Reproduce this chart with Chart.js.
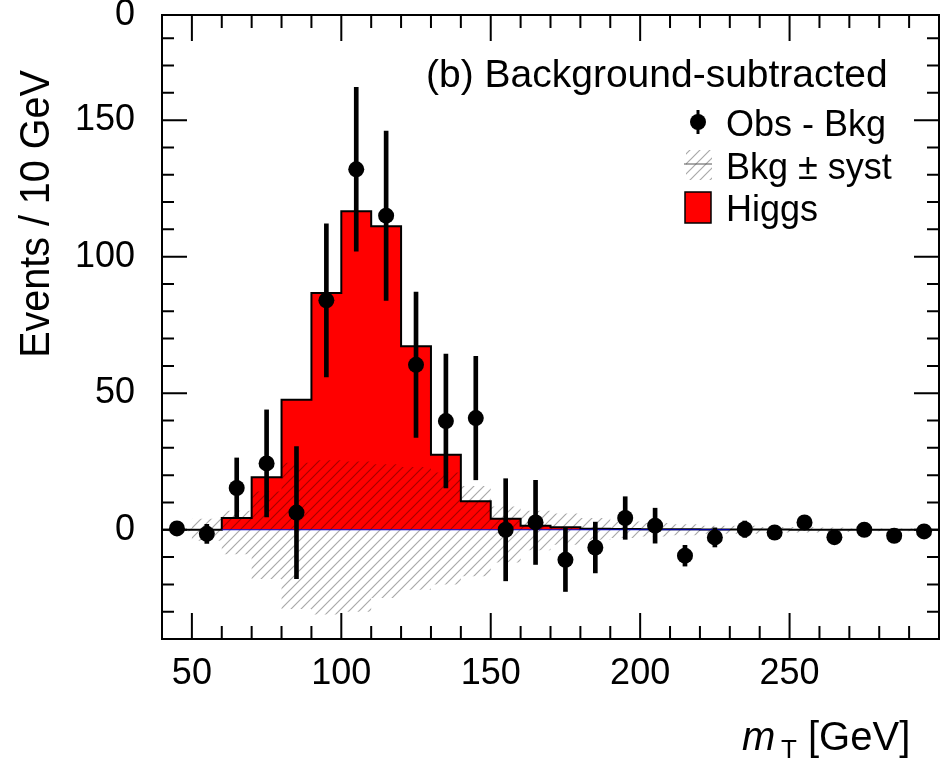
<!DOCTYPE html>
<html>
<head>
<meta charset="utf-8">
<title>mT background-subtracted</title>
<script src="https://cdn.jsdelivr.net/npm/chart.js@4.4.1/dist/chart.umd.min.js"></script>
<style>
  html,body{margin:0;padding:0;background:#fff;}
  #wrap{position:relative;width:947px;height:759px;overflow:hidden;}
</style>
</head>
<body>
<div id="wrap"><canvas id="chartMt" width="947" height="759"></canvas></div>
<script>
// histogramas em bins de 10 GeV
const binEdges   = [40,50,60,70,80,90,100,110,120,130,140,150,160,170,180,190,200,210,220,230,240,250,260,270,280,290,300];
const binCenters = [45,55,65,75,85,95,105,115,125,135,145,155,165,175,185,195,205,215,225,235,245,255,265,275,285,295];
const higgs      = [0,0,4.3,19.2,47.6,86.7,116.6,111.1,67.2,27.5,10.4,4.0,1.5,0.9,0.4,0.3,0.2,0.15,0.1,0.1,0.1,0.05,0.05,0,0,0];
const bkgUp      = [0.5,4,7,14,24.5,25.5,25,24,23,21,16,8.5,7,6,4.3,3,2.5,2,1.5,1.5,1,1,0.8,0.5,0.5,0.5];
const bkgDown    = [-0.5,-4,-9,-18,-29,-31,-30,-25,-22,-20,-17,-12,-7.5,-5.5,-3.7,-3,-2.5,-2,-1.5,-1.5,-1,-1,-0.8,-0.5,-0.5,-0.5];
const obsMinusBkg= [0.5,-1.5,15.3,24.3,6.3,84,132,115,60.4,39.8,40.9,0,2.7,-11,-6.5,4.3,1.5,-9.5,-2.8,0.2,-1,2.7,-2.7,0,-2.2,-0.6];
const obsErr     = [1.5,3.5,11,19.6,24.2,28,30,31,26.6,24.5,22.6,18.7,15.4,11.6,9.3,7.8,6.4,3.8,3.5,3,2,2,2,2,2,2];
const xTickLabels= [50,100,150,200,250];
const yTickLabels= [0,50,100,150];

(function(){
  const FONT = '"Liberation Sans", Arial, Helvetica, sans-serif';
  const canvas = document.getElementById('chartMt');

  function makeHatch(){
    const c = document.createElement('canvas'); c.width = 10; c.height = 10;
    const g = c.getContext('2d');
    g.strokeStyle = 'rgba(0,0,0,0.34)'; g.lineWidth = 1.2;
    g.beginPath();
    g.moveTo(0,10); g.lineTo(10,0);
    g.moveTo(-5,5); g.lineTo(5,-5);
    g.moveTo(5,15); g.lineTo(15,5);
    g.stroke();
    return g.createPattern(c,'repeat');
  }
  const hatch = makeHatch();

  // degraus: valor do bin vale ate a borda seguinte, ultimo repetido em 300
  const stepData = vals => binEdges.map((x,i)=>({x, y: vals[Math.min(i, vals.length-1)]}));

  // moldura, ticks internos, rotulos e legenda
  const framePlugin = {
    id: 'frameTicks',
    afterDraw(chart){
      const {ctx, chartArea:a, scales:{x, y}} = chart;
      ctx.save();
      ctx.strokeStyle = '#000'; ctx.lineWidth = 2;
      ctx.strokeRect(a.left, a.top, a.right-a.left, a.bottom-a.top);
      ctx.beginPath();
      for(let v=40; v<=300; v+=10){
        const px = x.getPixelForValue(v);
        const len = xTickLabels.includes(v) ? 26 : 13;
        ctx.moveTo(px, a.bottom); ctx.lineTo(px, a.bottom-len);
        ctx.moveTo(px, a.top); ctx.lineTo(px, a.top+len);
      }
      for(let v=-40; v<=180; v+=10){
        const py = y.getPixelForValue(v);
        const len = yTickLabels.includes(v) ? 25 : 12;
        ctx.moveTo(a.left, py); ctx.lineTo(a.left+len, py);
        ctx.moveTo(a.right, py); ctx.lineTo(a.right-len, py);
      }
      ctx.stroke();

      ctx.fillStyle = '#000';
      ctx.font = '36px '+FONT;
      ctx.textAlign = 'right'; ctx.textBaseline = 'middle';
      yTickLabels.forEach(v=> ctx.fillText(String(v), 135, y.getPixelForValue(v)));
      ctx.textBaseline = 'alphabetic';
      ctx.fillText('0', 135, 25);
      ctx.textAlign = 'center';
      xTickLabels.forEach(v=> ctx.fillText(String(v), x.getPixelForValue(v), 684));

      // titulo do eixo y (fonte estreita)
      ctx.save();
      ctx.translate(49, 214); ctx.rotate(-Math.PI/2); ctx.scale(0.94, 1);
      ctx.font = '42px '+FONT; ctx.textAlign = 'center';
      ctx.fillText('Events / 10 GeV', 0, 0);
      ctx.restore();

      // titulo do eixo x: m_T [GeV]
      ctx.textAlign = 'left';
      ctx.font = 'italic 40px '+FONT; ctx.fillText('m', 742, 750);
      ctx.font = '26px '+FONT; ctx.fillText('T', 781, 758);
      ctx.font = '40px '+FONT; ctx.fillText('[GeV]', 808, 750);

      // legenda
      ctx.font = '39px '+FONT;
      ctx.fillText('(b) Background-subtracted', 426, 87);
      ctx.font = '36px '+FONT;
      ctx.beginPath(); ctx.arc(698, 122, 8, 0, Math.PI*2); ctx.fill();
      ctx.lineWidth = 3; ctx.beginPath(); ctx.moveTo(698,110); ctx.lineTo(698,134); ctx.stroke();
      ctx.fillText('Obs - Bkg', 726, 136);
      ctx.fillStyle = hatch; ctx.fillRect(686, 150, 26, 30);
      ctx.strokeStyle = '#555'; ctx.lineWidth = 1;
      ctx.beginPath(); ctx.moveTo(684,164); ctx.lineTo(712,164); ctx.stroke();
      ctx.fillStyle = '#000';
      ctx.fillText('Bkg \u00b1 syst', 726, 179);
      ctx.fillStyle = '#ff0000'; ctx.fillRect(685, 192, 26, 31);
      ctx.strokeStyle = '#000'; ctx.lineWidth = 1.5; ctx.strokeRect(685, 192, 26, 31);
      ctx.fillStyle = '#000';
      ctx.fillText('Higgs', 726, 221);
      ctx.restore();
    }
  };

  new Chart(canvas.getContext('2d'), {
    type: 'line',
    data: { datasets: [
      { label:'Higgs', data: stepData(higgs), stepped:'before', fill:'origin', backgroundColor:'#ff0000',
        borderColor:'#000', borderWidth:2, pointRadius:0, order:5 },
      { label:'Bkg up', data: stepData(bkgUp), stepped:'before', fill:'+1', backgroundColor: hatch,
        borderColor:'transparent', borderWidth:0, pointRadius:0, order:4 },
      { label:'Bkg down', data: stepData(bkgDown), stepped:'before', fill:false,
        borderColor:'transparent', borderWidth:0, pointRadius:0, order:4 },
      { label:'Bkg', data: [{x:60,y:0},{x:230,y:0}], borderColor:'#0000cc', borderWidth:1.2, pointRadius:0, fill:false, order:3 },
      { type:'bar', label:'Obs err', data: binCenters.map((x,i)=>({x, y:[obsMinusBkg[i]-obsErr[i], obsMinusBkg[i]+obsErr[i]]})),
        backgroundColor:'#000', barThickness:4, order:1 },
      { label:'Obs - Bkg', data: binCenters.map((x,i)=>({x, y:obsMinusBkg[i]})), showLine:false,
        pointRadius:8, pointBackgroundColor:'#000', pointBorderWidth:0, order:0 }
    ]},
    options: {
      responsive:false, animation:false, events:[],
      layout:{ padding:{ left:162, right:1, top:15, bottom:120 } },
      scales:{
        x:{ type:'linear', min:40, max:300, offset:false, display:false },
        y:{ type:'linear', min:-40, max:188.5, display:false }
      },
      plugins:{ legend:{display:false}, tooltip:{enabled:false} }
    },
    plugins:[framePlugin]
  });
})();
</script>
</body>
</html>
